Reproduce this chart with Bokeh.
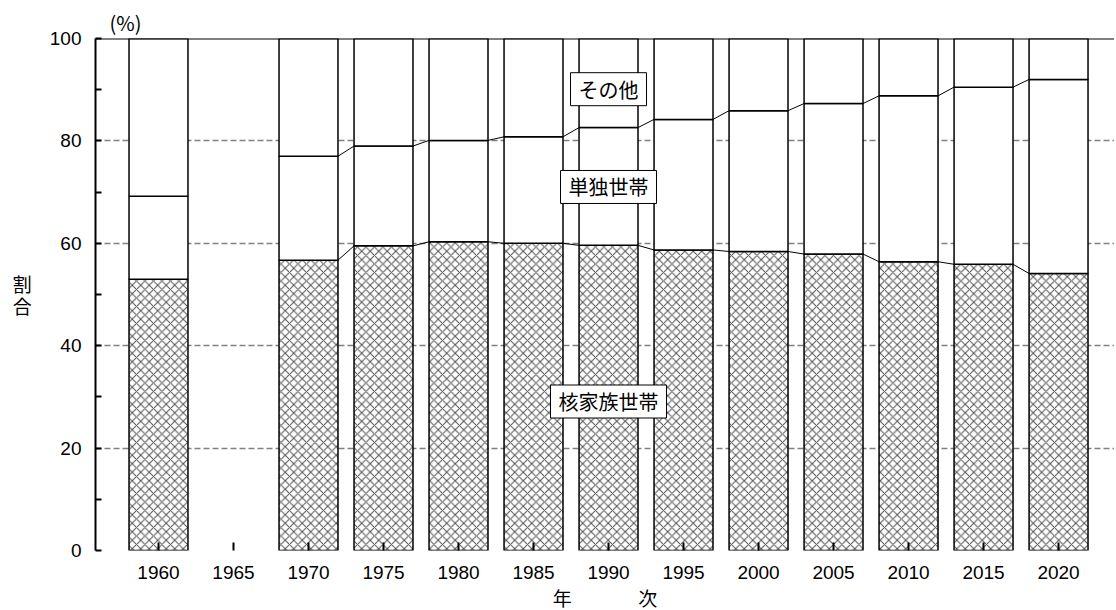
from bokeh.plotting import figure
from bokeh.models import Range1d, FixedTicker, Label, Span
from bokeh.embed import file_html
from bokeh.resources import INLINE

# ---- data ----
years = [1960, 1965, 1970, 1975, 1980, 1985, 1990, 1995, 2000, 2005, 2010, 2015, 2020]
nuclear = [53.0, 0.0, 56.7, 59.5, 60.3, 60.0, 59.6, 58.7, 58.4, 57.9, 56.4, 55.9, 54.1]   # 核家族世帯
single = [16.2, 0.0, 20.3, 19.5, 19.8, 20.8, 23.0, 25.5, 27.5, 29.4, 32.4, 34.6, 37.9]    # 単独世帯
other = [30.8, 0.0, 23.0, 21.0, 19.9, 19.2, 17.4, 15.8, 14.1, 12.7, 11.2, 9.5, 8.0]       # その他
y_ticks = [0, 20, 40, 60, 80, 100]

# ---- derived stacking ----
valid = [i for i in range(len(years)) if nuclear[i] + single[i] + other[i] > 0]
xs = [years[i] for i in valid]
n_top = [nuclear[i] for i in valid]
s_top = [nuclear[i] + single[i] for i in valid]
o_top = [nuclear[i] + single[i] + other[i] for i in valid]

BAR_W = 3.93
JP = "Noto Sans CJK JP"
NUM = "Liberation Sans"

p = figure(frame_width=1019, frame_height=512, output_backend="svg", toolbar_location=None,
           x_range=Range1d(1955.8, 2023.73), y_range=Range1d(0, 100),
           min_border_left=95, min_border_right=0, min_border_top=38, min_border_bottom=0)
p.outline_line_color = None
p.background_fill_color = "white"
p.border_fill_color = "white"

# unit label above the plot
p.title.text = "(%)"
p.title.align = "left"
p.title.offset = 14
p.title.standoff = 4
p.title.text_font = JP
p.title.text_font_size = "20px"
p.title.text_font_style = "normal"
p.title.text_color = "black"

# bars
p.vbar(x=xs, width=BAR_W, bottom=0, top=n_top, fill_color="white", line_color="black",
       line_width=1.5, hatch_pattern="diagonal_cross", hatch_color="#505050",
       hatch_scale=8.5, hatch_weight=1)
p.vbar(x=xs, width=BAR_W, bottom=n_top, top=s_top, fill_color="white",
       line_color="black", line_width=1.5)
p.vbar(x=xs, width=BAR_W, bottom=s_top, top=o_top, fill_color="white",
       line_color="black", line_width=1.5)

# series lines between adjacent bars
x0s, x1s, y0s, y1s = [], [], [], []
for a, b in zip(valid[:-1], valid[1:]):
    if b != a + 1:
        continue
    ia, ib = valid.index(a), valid.index(b)
    for tops in (n_top, s_top):
        x0s.append(xs[ia] + BAR_W / 2)
        x1s.append(xs[ib] - BAR_W / 2)
        y0s.append(tops[ia])
        y1s.append(tops[ib])
p.segment(x0=x0s, y0=y0s, x1=x1s, y1=y1s, line_color="black", line_width=1)

# grid
p.xgrid.visible = False
p.ygrid.ticker = FixedTicker(ticks=y_ticks)
p.ygrid.grid_line_color = "#808080"
p.ygrid.grid_line_dash = "6 3"
p.ygrid.grid_line_width = 1.5
p.ygrid.level = "underlay"

# top border line
p.add_layout(Span(location=100, dimension="width", line_color="black", line_width=2))

# y axis
yax = p.yaxis[0]
yax.ticker = FixedTicker(ticks=y_ticks, minor_ticks=[10, 30, 50, 70, 90])
yax.axis_line_color = "black"
yax.axis_line_width = 2
yax.major_tick_in = 6
yax.major_tick_out = 0
yax.minor_tick_in = 6
yax.minor_tick_out = 0
yax.major_tick_line_width = 2
yax.minor_tick_line_width = 2
yax.major_label_text_font = NUM
yax.major_label_text_font_size = "19px"
yax.major_label_text_color = "black"
yax.major_label_standoff = 14
yax.axis_label = "割\n合"
yax.axis_label_orientation = "horizontal"
yax.axis_label_text_font = JP
yax.axis_label_text_font_style = "normal"
yax.axis_label_text_font_size = "19px"
yax.axis_label_text_color = "black"
yax.axis_label_text_line_height = 0.8
yax.axis_label_standoff = 15

# x axis
xax = p.xaxis[0]
xax.ticker = FixedTicker(ticks=years)
xax.axis_line_color = None
xax.major_tick_in = 8
xax.major_tick_out = 0
xax.minor_tick_line_color = None
xax.major_tick_line_width = 2
xax.major_tick_line_color = "black"
xax.major_label_text_font = NUM
xax.major_label_text_font_size = "19px"
xax.major_label_text_color = "black"
xax.major_label_standoff = 15
xax.axis_label = "年　　　\u2002次"
xax.axis_label_text_font = JP
xax.axis_label_text_font_style = "normal"
xax.axis_label_text_font_size = "19px"
xax.axis_label_text_color = "black"
xax.axis_label_standoff = 2

# series labels
for txt, yy in (("その他", 90.1), ("単独世帯", 71.0), ("核家族世帯", 29.1)):
    p.add_layout(Label(x=1990, y=yy, text=txt, text_align="center", text_baseline="middle",
                       text_font=JP, text_font_size="20px", text_color="black",
                       background_fill_color="white", border_line_color="black",
                       border_line_width=1, padding=(8, 2)))

open("out.html", "w").write(file_html(p, INLINE))
